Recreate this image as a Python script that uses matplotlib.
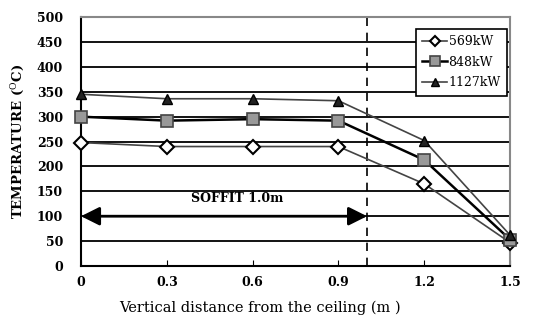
import matplotlib.pyplot as plt

plt.rcParams['font.family'] = 'DejaVu Serif'
plt.rcParams['mathtext.fontset'] = 'dejavuserif'

distance = [0, 0.3, 0.6, 0.9, 1.2, 1.5]
t_569 = [248, 240, 240, 240, 165, 47]
t_848 = [300, 292, 295, 292, 213, 53]
t_1127 = [345, 336, 336, 332, 252, 62]

x_ticks = [0, 0.3, 0.6, 0.9, 1.2, 1.5]
x_labels = ["0", "0.3", "0.6", "0.9", "1.2", "1.5"]
y_ticks = [0, 50, 100, 150, 200, 250, 300, 350, 400, 450, 500]

fig = plt.figure(figsize=(5.33, 3.23), dpi=100)
ax = fig.add_axes([0.152, 0.1765, 0.805, 0.7705])

# horizontal grid
for y in y_ticks[1:]:
    ax.axhline(y, color="black", lw=1.3, zorder=1)

# soffit marker
ax.axvline(1.0, color="black", ls=(0, (5, 4)), lw=1.2, zorder=2)
ax.annotate("", xy=(0, 100), xytext=(1.0, 100),
            arrowprops=dict(arrowstyle="<|-|>", color="black", lw=2,
                            mutation_scale=28, shrinkA=0, shrinkB=0))
ax.text(0.545, 122, "SOFFIT 1.0m", ha="center", va="bottom",
        fontsize=9, fontweight="bold")

# data
ax.plot(distance, t_569, color="#444444", lw=1.2, marker="D", ms=7,
        mfc="white", mec="black", mew=1.5, label="569kW", zorder=4, clip_on=False)
ax.plot(distance, t_848, color="black", lw=1.8, marker="s", ms=9,
        mfc="#999999", mec="#444444", mew=1.2, label="848kW", zorder=4, clip_on=False)
ax.plot(distance, t_1127, color="#444444", lw=1.2, marker="^", ms=7,
        mfc="#222222", mec="black", label="1127kW", zorder=5, clip_on=False)

ax.set_xlim(0, 1.5)
ax.set_ylim(0, 500)
ax.set_xticks(x_ticks)
ax.set_xticklabels(x_labels, fontweight="bold", fontsize=9)
ax.set_yticks(y_ticks)
ax.set_yticklabels([str(v) for v in y_ticks], fontweight="bold", fontsize=9)
ax.tick_params(axis="x", direction="in", length=4, pad=7)
ax.tick_params(axis="y", length=0, pad=13)

for s in ["left", "bottom"]:
    ax.spines[s].set_linewidth(1.5)
    ax.spines[s].set_color("black")
for s in ["top", "right"]:
    ax.spines[s].set_linewidth(1.5)
    ax.spines[s].set_color("#888888")

ax.set_xlabel("Vertical distance from the ceiling (m )", fontsize=10.5)
ax.xaxis.set_label_coords(0.417, -0.14)
ax.set_ylabel("TEMPERATURE ($^{\\mathrm{O}}$C)", fontsize=9.5, fontweight="bold", labelpad=8)

leg = ax.legend(loc="upper right", bbox_to_anchor=(0.993, 0.952), borderaxespad=0,
                fancybox=False, framealpha=1, edgecolor="black", fontsize=9,
                handlelength=2.0, handletextpad=0.1, borderpad=0.5, labelspacing=0.6,
                markerscale=0.8)
leg.get_frame().set_linewidth(1.2)
leg.set_zorder(6)

fig.savefig("out.png", dpi=100)
